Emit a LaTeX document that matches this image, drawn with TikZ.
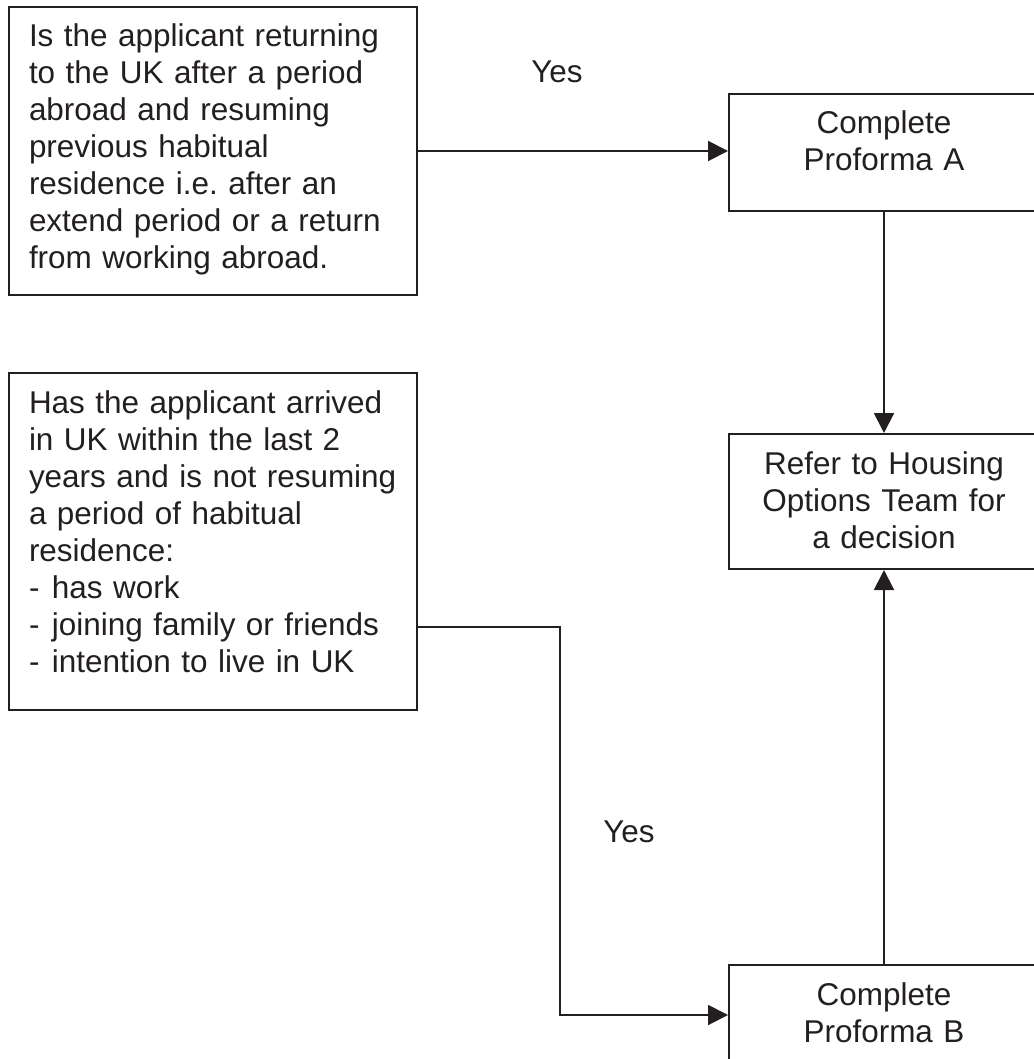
\documentclass[tikz,border=0pt]{standalone}
\usepackage{fontspec}
\setmainfont{Liberation Sans}
\usetikzlibrary{arrows.meta}

\definecolor{ink}{RGB}{35,31,32}
\newcommand{\boxfont}{\fontsize{11.8}{13.875}\selectfont\frenchspacing\hyphenpenalty=10000\relax}
\newcommand{\dashitem}[1]{\makebox[8.6pt][l]{-}#1}

\tikzset{
  qbox/.style={draw=ink, line width=0.75pt, anchor=north west, text width=138pt,
    inner xsep=7.5pt, inner ysep=6pt, text height=9pt, text depth={#1-21pt},
    align=left, font=\boxfont, text=ink},
  abox/.style={draw=ink, line width=0.75pt, anchor=north west, text width=108.25pt,
    inner xsep=4pt, inner ysep=6pt, text height=9pt, text depth={#1-21pt},
    align=center, font=\boxfont, text=ink},
  link/.style={draw=ink, line width=0.75pt},
  arr/.style={link, -{Triangle[length=7.5pt,width=7.5pt]}},
}

\begin{document}
\begin{tikzpicture}[x=0.375pt,y=-0.375pt]
\useasboundingbox (0,0) rectangle (1034,1059);
\clip (0,0) rectangle (1034,1059);

\node[qbox=108pt] (retq) at (8,6) {Is the applicant returning\\to the UK after a period\\abroad and resuming\\previous habitual\\residence i.e. after an\\extend period or a return\\from working abroad.};
\node[qbox=126.375pt] (arrq) at (8,372) {Has the applicant arrived\\in UK within the last 2\\years and is not resuming\\a period of habitual\\residence:\\\dashitem{has work}\\\dashitem{joining family or friends}\\\dashitem{intention to live in UK}};

\node[abox=43.875pt] (pfa) at (728,93) {Complete\\Proforma A};
\node[abox=50.625pt] (refer) at (728,433) {Refer to Housing\\Options Team for\\a decision};
\node[abox=37.5pt] (pfb) at (728,964) {Complete\\Proforma B};

\node[font=\boxfont, text=ink] (yesA) at (557,72) {Yes};
\node[font=\boxfont, text=ink] (yesB) at (629,832) {Yes};

\coordinate (turn) at (560,627);

\draw[arr] (retq.east) -- (retq.east -| pfa.west);
\draw[arr] (pfa.south) -- (refer.north);
\draw[arr] (pfb.north) -- (refer.south);
\draw[arr] (arrq.east |- turn) -- (turn) |- (pfb.west);

\end{tikzpicture}
\end{document}
